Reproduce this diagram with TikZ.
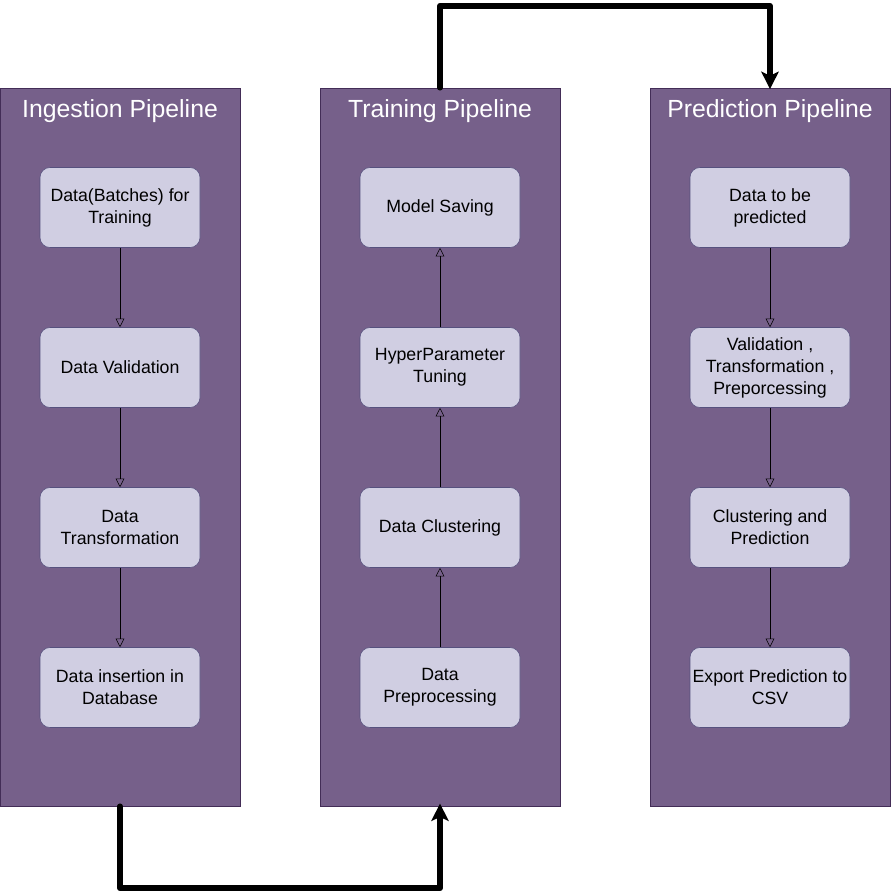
\documentclass[tikz,border=0pt]{standalone}
\usepackage{fontspec}
\setmainfont{Liberation Sans}
\usetikzlibrary{arrows.meta}
\definecolor{lanefill}{HTML}{76608A}
\definecolor{laneline}{HTML}{432D57}
\definecolor{boxfill}{HTML}{D0CEE2}
\definecolor{boxline}{HTML}{56517E}
\begin{document}
\begin{tikzpicture}[x=0.75pt,y=-0.75pt]
		\tikzstyle{every node}+=[inner sep=0pt]
		\tikzstyle{lane}=[draw=laneline, fill=lanefill, minimum width=180pt, minimum height=538.5pt]
		\tikzstyle{title}=[text=white, font=\fontsize{18.6}{21}\selectfont]
		\tikzstyle{stepbox}=[draw=boxline, fill=boxfill, rounded corners=7.5pt, minimum width=120pt, minimum height=60pt, align=center, font=\fontsize{13.3}{16.5}\selectfont]
		\tikzstyle{flow}=[black, -{Triangle[open, length=6.5pt, width=6.5pt]}]
		\tikzstyle{bigflow}=[black, line width=4.2pt, line join=round, line cap=round, -{Stealth[length=13pt, width=13pt, inset=3pt]}]
		\useasboundingbox (0,0) rectangle (891,893);
		% lanes
		\node [lane] (ing) at (120,447) {};
		\node [lane] (trn) at (440,447) {};
		\node [lane] (prd) at (770,447) {};
		\node [title] (ingT) at (120,111) {Ingestion Pipeline};
		\node [title] (trnT) at (440,111) {Training Pipeline};
		\node [title] (prdT) at (770,111) {Prediction Pipeline};
		% ingestion steps
		\node [stepbox] (i1) at (120,207.5) {Data(Batches) for\\Training};
		\node [stepbox] (i2) at (120,367.5) {Data Validation};
		\node [stepbox] (i3) at (120,527.5) {Data\\Transformation};
		\node [stepbox] (i4) at (120,687.5) {Data insertion in\\Database};
		% training steps
		\node [stepbox] (t1) at (440,207.5) {Model Saving};
		\node [stepbox] (t2) at (440,367.5) {HyperParameter\\Tuning};
		\node [stepbox] (t3) at (440,527.5) {Data Clustering};
		\node [stepbox] (t4) at (440,687.5) {Data\\Preprocessing};
		% prediction steps
		\node [stepbox] (p1) at (770,207.5) {Data to be\\predicted};
		\node [stepbox] (p2) at (770,367.5) {Validation ,\\Transformation ,\\Preporcessing};
		\node [stepbox] (p3) at (770,527.5) {Clustering and\\Prediction};
		\node [stepbox] (p4) at (770,687.5) {Export Prediction to\\CSV};
		% arrows inside the lanes
		\draw [flow] (i1) -- (i2);
		\draw [flow] (i2) -- (i3);
		\draw [flow] (i3) -- (i4);
		\draw [flow] (t4) -- (t3);
		\draw [flow] (t3) -- (t2);
		\draw [flow] (t2) -- (t1);
		\draw [flow] (p1) -- (p2);
		\draw [flow] (p2) -- (p3);
		\draw [flow] (p3) -- (p4);
		% arrows between the lanes
		\draw [bigflow, shorten >=-2pt] (ing.south) -- ++(0,82) -| (trn.south);
		\draw [bigflow, shorten >=-1pt] (trn.north) -- ++(0,-82) -| (prd.north);
	\end{tikzpicture}
\end{document}
